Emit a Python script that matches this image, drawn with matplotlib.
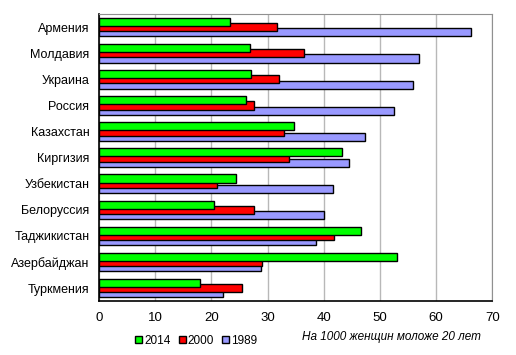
import matplotlib.pyplot as plt
import numpy as np

plt.rcParams['font.family'] = ['Liberation Sans', 'DejaVu Sans']

countries = ['Армения', 'Молдавия', 'Украина', 'Россия', 'Казахстан', 'Киргизия',
             'Узбекистан', 'Белоруссия', 'Таджикистан', 'Азербайджан', 'Туркмения']
v2014 = [23.3, 26.8, 27.1, 26.1, 34.7, 43.3, 24.3, 20.5, 46.7, 53.0, 18.0]
v2000 = [31.6, 36.4, 32.1, 27.5, 33.0, 33.8, 21.0, 27.5, 41.9, 29.0, 25.5]
v1989 = [66.3, 56.9, 55.8, 52.5, 47.4, 44.5, 41.7, 40.0, 38.7, 28.9, 22.1]

fig = plt.figure(figsize=(5.16, 3.55), dpi=100)
ax = fig.add_axes([0.192, 0.152, 0.762, 0.808])

y = np.arange(len(countries))
h = 0.31
ax.barh(y + 0.2, v1989, height=h, color='#9999ff', edgecolor='black', linewidth=1, label='1989', zorder=2)
ax.barh(y, v2000, height=h, color='#ff0000', edgecolor='black', linewidth=1, label='2000', zorder=3)
ax.barh(y - 0.2, v2014, height=h, color='#00ff00', edgecolor='black', linewidth=1, label='2014', zorder=4)

ax.set_xlim(0, 70)
ax.set_ylim(len(countries) - 0.5, -0.5)
ax.set_xticks(range(0, 71, 10))
ax.set_yticks(y)
ax.set_yticklabels(countries, fontsize=9)
ax.tick_params(axis='x', labelsize=9.5, length=0, pad=8)
ax.tick_params(axis='y', length=0, pad=7)
ax.grid(axis='x', color='#b8b8b8', linewidth=1, zorder=0)
ax.set_axisbelow(True)
for s in ['top', 'right']:
    ax.spines[s].set_color('#909090')
for s in ['left', 'bottom']:
    ax.spines[s].set_color('black')
    ax.spines[s].set_linewidth(1.2)

fig.text(0.932, 0.05, 'На 1000 женщин моложе 20 лет', fontsize=8.5, style='italic', ha='right', va='center')

handles, labels = ax.get_legend_handles_labels()
fig.legend(handles[::-1], labels[::-1], loc='center', bbox_to_anchor=(0.38, 0.04), ncol=3,
           frameon=False, fontsize=8.5, handlelength=0.6, handleheight=0.6, handletextpad=0.15,
           columnspacing=0.7)

plt.savefig('out.png', dpi=100)
